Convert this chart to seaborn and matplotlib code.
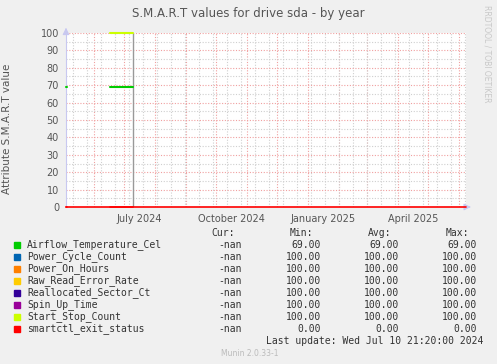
import matplotlib
matplotlib.use("Agg")
import matplotlib.pyplot as plt
import numpy as np
import pandas as pd
import seaborn as sns

# --- data -------------------------------------------------------------
names = ["Airflow_Temperature_Cel", "Power_Cycle_Count", "Power_On_Hours",
         "Raw_Read_Error_Rate", "Reallocated_Sector_Ct", "Spin_Up_Time",
         "Start_Stop_Count", "smartctl_exit_status"]
colors = ["#00cc00", "#0066b3", "#ff8000", "#ffcc00", "#330099",
          "#990099", "#ccff00", "#ff0000"]
cur = ["-nan"] * 8
mins = [69.0, 100.0, 100.0, 100.0, 100.0, 100.0, 100.0, 0.0]
avgs = [69.0, 100.0, 100.0, 100.0, 100.0, 100.0, 100.0, 0.0]
maxs = [69.0, 100.0, 100.0, 100.0, 100.0, 100.0, 100.0, 0.0]

# two stretches of samples: a short one at the start, then mid-June to last update
seg1_dates = pd.to_datetime(["2024-05-04", "2024-05-05"])
seg2_dates = pd.to_datetime(["2024-06-17", "2024-07-10"])
airflow = [69, 69]
start_stop = [100, 100]
exit_status = [0, 0]

x_start = pd.Timestamp("2024-05-04")
x_end = pd.Timestamp("2025-06-08")
last_sample = pd.Timestamp("2024-07-10")
label_dates = pd.to_datetime(["2024-07-16", "2024-10-16", "2025-01-16", "2025-04-16"])
label_text = ["July 2024", "October 2024", "January 2025", "April 2025"]

# --- figure -----------------------------------------------------------
sns.set_style("white")
plt.rcParams['font.family'] = ['DejaVu Sans']
fig = plt.figure(figsize=(4.97, 3.64), dpi=100, facecolor="#f0f0f0")
ax = fig.add_axes([66/497, 1 - 207/364, 400/497, 174/364])
ax.set_facecolor("white")

# grid
ax.set_xlim(x_start, x_end)
ax.set_ylim(0, 100)
ax.set_yticks(np.arange(0, 101, 10))
ax.set_yticks(np.arange(5, 100, 10), minor=True)
ax.set_xticks(label_dates, label_text)
ax.set_xticks(pd.date_range("2024-05-11", x_end, freq="14D"), minor=True)
ax.grid(which="minor", color="#cfcfcf", linestyle=(0, (1, 1.5)), linewidth=0.8)
ax.yaxis.grid(True, which="major", color="#f0a0a0", linestyle=(0, (1, 1.5)), linewidth=0.8)
for m in pd.date_range("2024-06-01", x_end, freq="MS"):
    ax.axvline(m, color="#f0a0a0", linestyle=(0, (1, 1.5)), linewidth=0.8, zorder=0.5)

ax.tick_params(axis="x", which="major", length=0, labelsize=7, labelcolor="#555555", pad=5)
ax.tick_params(axis="x", which="minor", length=2, color="#bbbbbb")
ax.tick_params(axis="y", which="major", length=2, color="#bbbbbb", labelsize=7, labelcolor="#555555", pad=3)
ax.tick_params(axis="y", which="minor", length=2, color="#bbbbbb")
for s in ["top", "right", "bottom"]:
    ax.spines[s].set_visible(False)
ax.spines["left"].set_color("#c8c8f0")

# series
for d in (seg1_dates, seg2_dates):
    sns.lineplot(x=d, y=airflow, ax=ax, color=colors[0], linewidth=1.5, zorder=3, clip_on=False)
    sns.lineplot(x=d, y=start_stop, ax=ax, color=colors[6], linewidth=1.5, zorder=3, clip_on=False)
    sns.lineplot(x=d, y=exit_status, ax=ax, color=colors[7], linewidth=1.2, zorder=3, clip_on=False)
ax.vlines(last_sample, 0, 100, color="#999999", linewidth=1, zorder=2)
ax.axhline(0, color="#ff0000", linewidth=1.2, zorder=4, clip_on=False)

# axis arrows
ax.annotate("", xy=(1.012, 0), xytext=(1.0, 0), xycoords="axes fraction",
            arrowprops=dict(arrowstyle="-|>", color="#c8c8f0", lw=0.8), annotation_clip=False)
ax.annotate("", xy=(0, 1.03), xytext=(0, 1.0), xycoords="axes fraction",
            arrowprops=dict(arrowstyle="-|>", color="#c8c8f0", lw=0.8), annotation_clip=False)

ax.set_xlabel("")
ax.set_ylabel("Attribute S.M.A.R.T value", fontsize=7.5, color="#555555")
ax.yaxis.set_label_coords(-0.135, 0.45)

fig.text(0.5, 1 - 13/364, "S.M.A.R.T values for drive sda - by year",
         ha="center", va="center", fontsize=8.5, color="#555555")
fig.text(487/497, 1 - 5/364, "RRDTOOL / TOBI OETIKER", rotation=270,
         ha="center", va="top", fontsize=5.5, color="#c8c8c8")

# legend table
mono = "DejaVu Sans Mono"
fs = 7
def ty(y):
    return 1 - y / 364

fig.text(235/497, ty(233), "Cur:", ha="right", va="center", family=mono, fontsize=fs, color="#333333")
fig.text(313/497, ty(233), "Min:", ha="right", va="center", family=mono, fontsize=fs, color="#333333")
fig.text(391/497, ty(233), "Avg:", ha="right", va="center", family=mono, fontsize=fs, color="#333333")
fig.text(469/497, ty(233), "Max:", ha="right", va="center", family=mono, fontsize=fs, color="#333333")
for i, n in enumerate(names):
    y = 245 + 12 * i
    fig.patches.append(plt.Rectangle((14/497, ty(y + 3)), 6/497, 6/364,
                                     transform=fig.transFigure, color=colors[i]))
    fig.text(27/497, ty(y), n, ha="left", va="center", family=mono, fontsize=fs, color="#333333")
    fig.text(242/497, ty(y), cur[i], ha="right", va="center", family=mono, fontsize=fs, color="#333333")
    fig.text(321/497, ty(y), "%.2f" % mins[i], ha="right", va="center", family=mono, fontsize=fs, color="#333333")
    fig.text(399/497, ty(y), "%.2f" % avgs[i], ha="right", va="center", family=mono, fontsize=fs, color="#333333")
    fig.text(477/497, ty(y), "%.2f" % maxs[i], ha="right", va="center", family=mono, fontsize=fs, color="#333333")
fig.text(483/497, ty(341), "Last update: Wed Jul 10 21:20:00 2024", ha="right", va="center",
         family=mono, fontsize=fs, color="#333333")
fig.text(250/497, ty(353), "Munin 2.0.33-1", ha="center", va="center", fontsize=5.5, color="#bbbbbb")

fig.savefig("out.png", dpi=100, facecolor=fig.get_facecolor())
